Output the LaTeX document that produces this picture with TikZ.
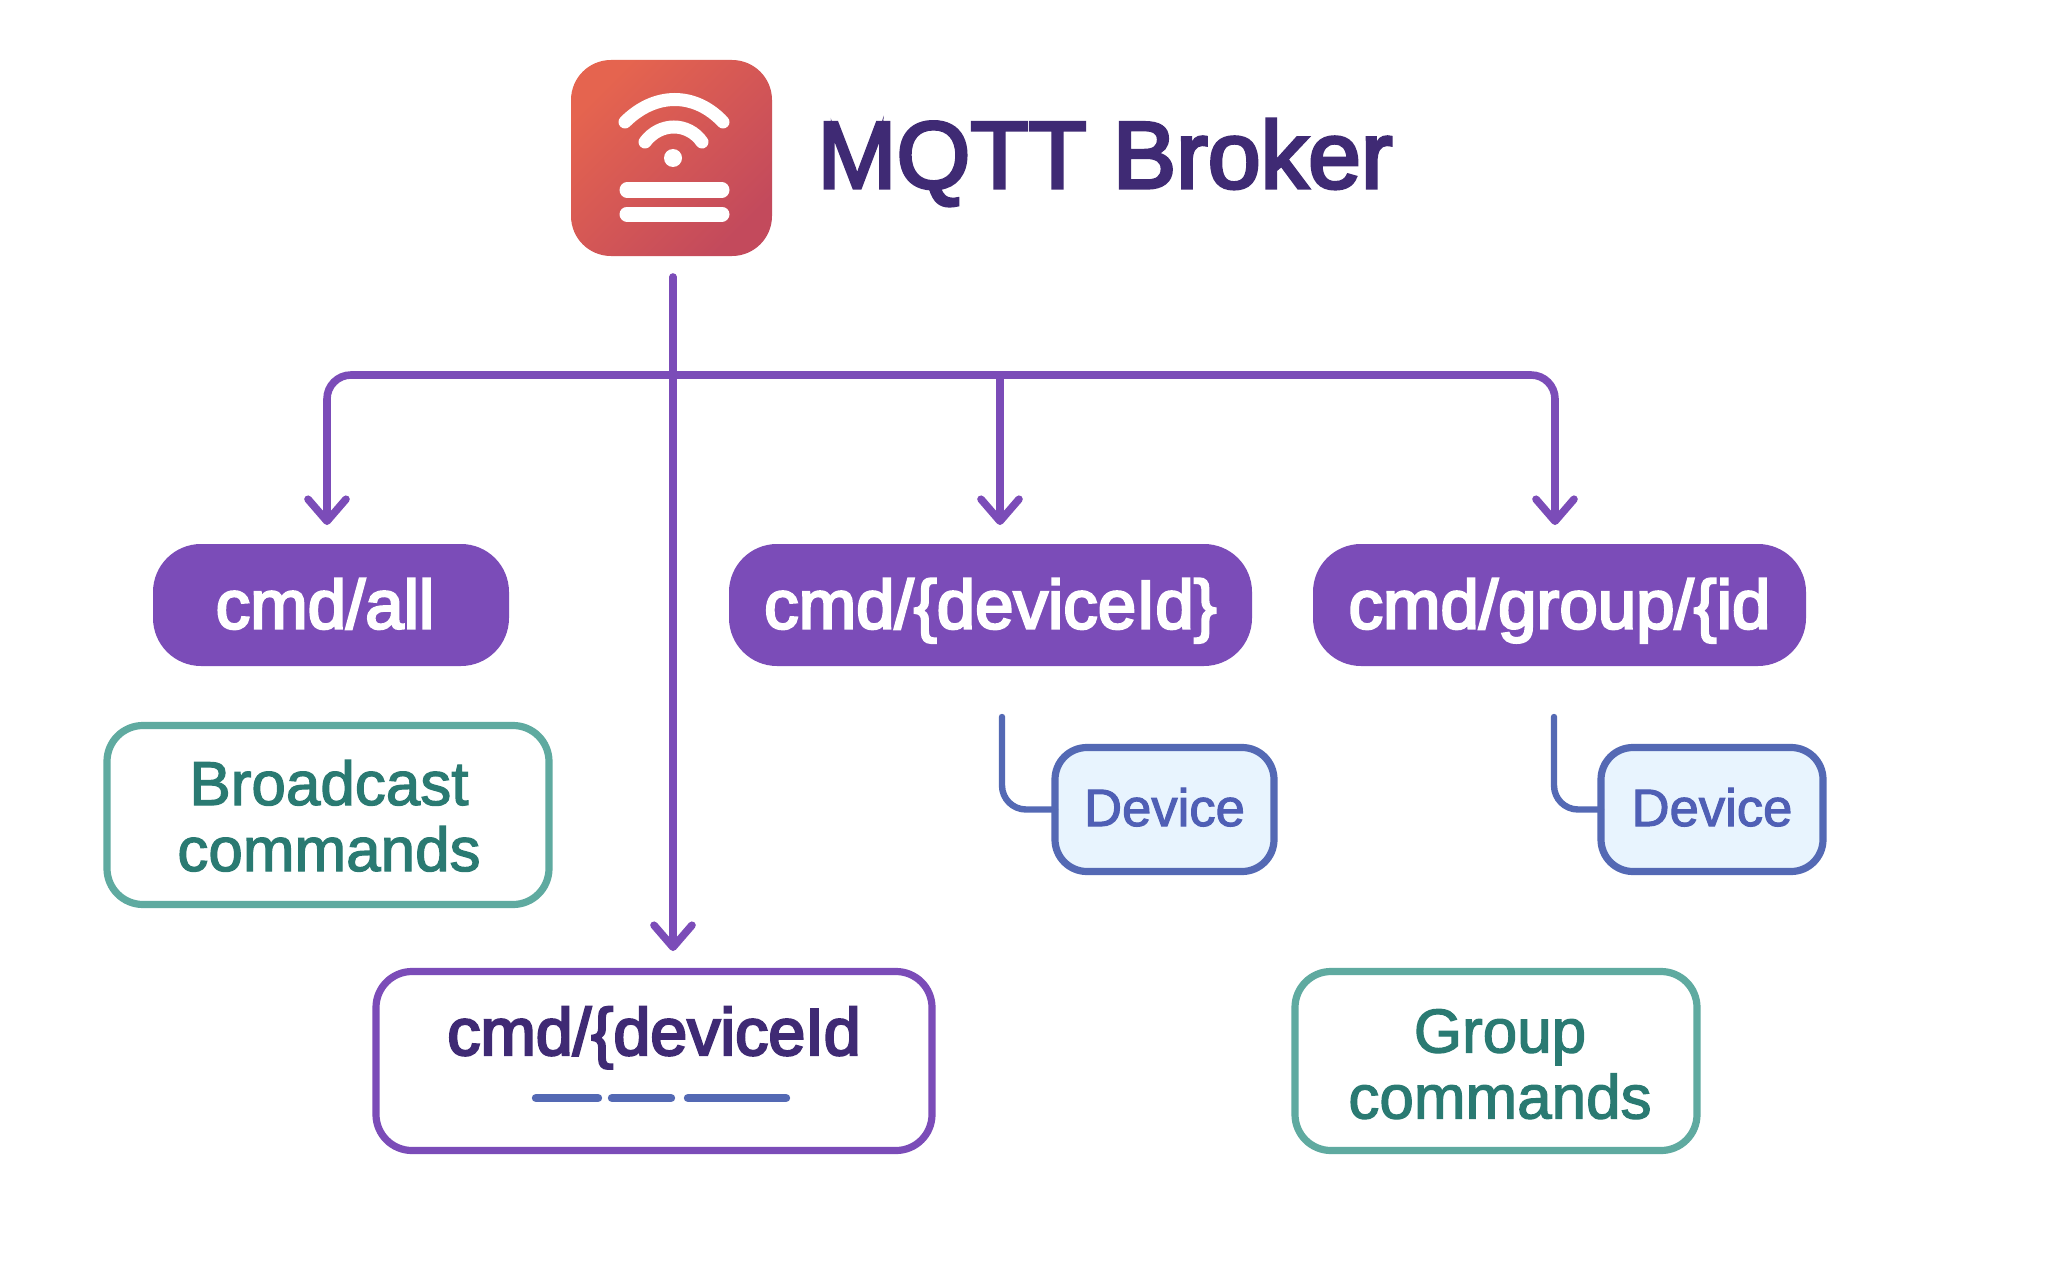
\documentclass[tikz,border=0pt]{standalone}
\usepackage{fontspec}
\usetikzlibrary{arrows.meta,calc}
\setmainfont{Liberation Sans}
\newfontfamily\headfont{Liberation Sans}[FakeBold=3.5]
\newfontfamily\pillfont{Liberation Sans}[FakeBold=3.5]
\newfontfamily\notefont{Liberation Sans}[FakeBold=2]
\definecolor{brokerA}{HTML}{E5644F}
\definecolor{brokerB}{HTML}{C34A5C}
\definecolor{purp}{HTML}{7B4CB8}
\definecolor{darkpurp}{HTML}{3F2A74}
\definecolor{tealline}{HTML}{5FAAA0}
\definecolor{tealtext}{HTML}{2A7A72}
\definecolor{blueline}{HTML}{5469B4}
\definecolor{bluetext}{HTML}{4F5FB5}
\definecolor{bluefill}{HTML}{E8F4FE}
\tikzset{
  x=0.5pt,y=-0.5pt,
  boxbase/.style={rectangle,inner sep=0pt,outer sep=0pt,align=center},
  pill/.style={boxbase,fill=purp,text=white,rounded corners=24pt,minimum height=61pt,
    text height=23.5pt,text depth=0pt,font=\pillfont\fontsize{34.5pt}{40pt}\selectfont},
  notebox/.style={boxbase,draw=tealline,line width=3.6pt,fill=white,text=tealtext,rounded corners=18pt,
    minimum height=89.5pt,text height=56pt,text depth=0pt,font=\notefont\fontsize{31pt}{33pt}\selectfont},
  topicbox/.style={boxbase,draw=purp,line width=3.6pt,fill=white,text=darkpurp,rounded corners=18pt,
    minimum height=89.5pt,text height=0pt,text depth=6pt,font=\pillfont\fontsize{33.2pt}{40pt}\selectfont},
  devicebox/.style={boxbase,draw=blueline,line width=3.6pt,fill=bluefill,text=bluetext,rounded corners=16pt,
    minimum height=62pt,text height=16.5pt,text depth=0pt,font=\notefont\fontsize{26.3pt}{30pt}\selectfont},
  flow/.style={draw=purp,line width=3.8pt,line cap=round},
  flowtip/.style={flow,-{Straight Barb[length=11pt,width=19pt,round]}},
  sidelink/.style={draw=blueline,line width=3.2pt,line cap=round,rounded corners=12pt},
  iconline/.style={draw=white,line cap=round},
  dashbar/.style={draw=blueline,line width=4.2pt,line cap=round},
}
\begin{document}
\begin{tikzpicture}
\fill[white] (0,0) rectangle (2057,1263);
\useasboundingbox (0,0) rectangle (2057,1263);

% broker icon and title
\node[rectangle,inner sep=0pt,outer sep=0pt,minimum width=100.5pt,minimum height=98pt,rounded corners=20pt,
  top color=brokerA,bottom color=brokerB,shading angle=45] (broker) at (671.5,158) {};
\draw[iconline,line width=6.5pt] (625,122) .. controls (655,92) and (695,92) .. (723,122);
\draw[iconline,line width=6.5pt] (645,142) .. controls (660,122) and (688,122) .. (702,142);
\fill[white] (673,158) circle (9);
\draw[iconline,line width=7.5pt] (627,190) -- (722,190);
\draw[iconline,line width=7.5pt] (627,214) -- (722,214);
\node[anchor=base west,inner sep=0pt,text=darkpurp,font=\headfont\fontsize{47.5pt}{50pt}\selectfont] (title) at (817,188) {MQTT Broker};

% nodes
\node[pill,minimum width=178pt] (all) at (331,605) {\hspace*{-6pt}cmd/all};
\node[pill,minimum width=261.5pt] (dev) at (990.5,605) {cmd/\{deviceId\}};
\node[pill,minimum width=246.5pt] (grp) at (1559.5,605) {cmd/group/\{id};
\node[notebox,minimum width=221pt] (bc) at (328,815) {\hspace*{1pt}Broadcast\\\hspace*{1pt}commands};
\node[topicbox,minimum width=278pt] (tp) at (654,1061) {cmd/\{deviceId};
\node[notebox,minimum width=201pt,text height=57.5pt] (gc) at (1496,1061) {\hspace*{4pt}Group\\\hspace*{4pt}commands};
\node[devicebox,minimum width=109.5pt] (d1) at (1164.5,809.5) {Device};
\node[devicebox,minimum width=111pt] (d2) at (1712,809.5) {Device};

% free ends
\coordinate (src) at (673,277);
\coordinate (tipm) at (673,951);
\coordinate (barl) at (327,375);
\coordinate (barr) at (1555,375);
\coordinate (barm) at (1000,375);
\coordinate (tipa) at (327,525);
\coordinate (tipb) at (1000,525);
\coordinate (tipc) at (1555,525);
\coordinate (s1) at (1002,717);
\coordinate (s2) at (1554,717);

% connectors
\draw[flowtip] (src) -- (tipm);
\draw[flowtip,rounded corners=12pt] (barm) -- (barl) -- (tipa);
\draw[flowtip,rounded corners=12pt] (barm) -- (barr) -- (tipc);
\draw[flowtip] (barm) -- (tipb);
\draw[sidelink] (s1) |- (d1.west);
\draw[sidelink] (s2) |- (d2.west);

% dashes in topic box
\draw[dashbar] (536,1098) -- (598,1098);
\draw[dashbar] (612,1098) -- (671,1098);
\draw[dashbar] (688,1098) -- (786,1098);
\end{tikzpicture}
\end{document}
